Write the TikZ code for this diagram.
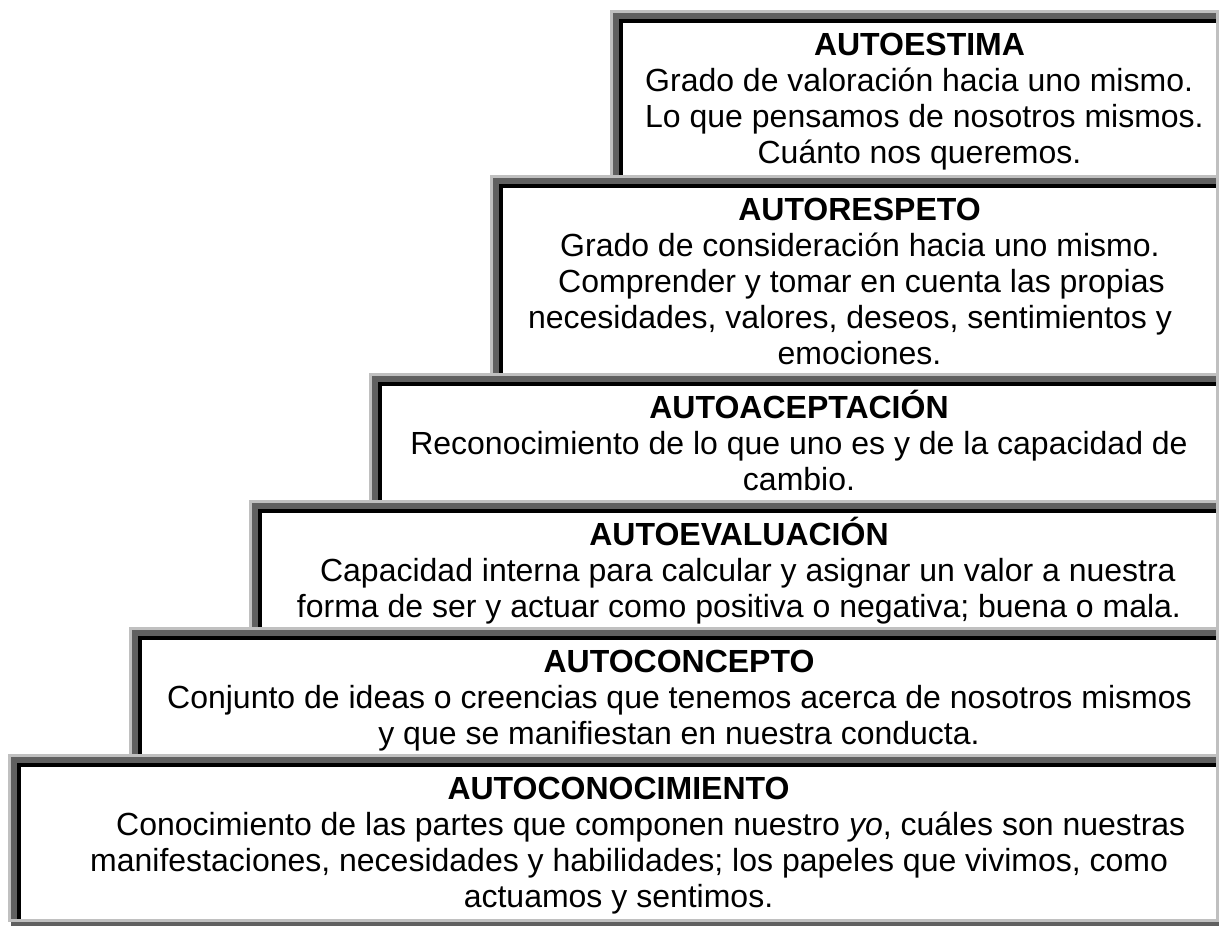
\documentclass[tikz,border=0pt]{standalone}
\usepackage{fontspec}
\setmainfont{Liberation Sans}
\definecolor{lg}{HTML}{C0C0C0}
\definecolor{dg}{HTML}{606060}
\newcommand\sunkbox[3]{%
  \fill[lg] (#1,#2) rectangle (1219,#3);
  \fill[dg] (#1+3,#2+3) rectangle (1216,#3-3);
  \fill[black] (#1+9,#2+9) rectangle (1216,#3-3);
  \fill[white] (#1+13,#2+13) rectangle (1216,#3-3);
}
\tikzset{
  txt/.style={anchor=base, inner sep=0pt, font=\fontsize{32}{36}\selectfont},
  ltxt/.style={txt, anchor=base west},
  ttl/.style={txt, font=\fontsize{32}{36}\selectfont\bfseries}
}
\begin{document}
\begin{tikzpicture}[x=1pt,y=-1pt]
\useasboundingbox (0,0) rectangle (1219,926);
\fill[white] (0,0) rectangle (1219,926);
% boxes
\sunkbox{610}{10}{178}
\sunkbox{490}{175}{376}
\sunkbox{369}{373}{503}
\sunkbox{249}{500}{630}
\sunkbox{129}{627}{757}
\sunkbox{8}{754}{922}
\fill[dg] (11,922) rectangle (1219,926);
% box 1
\node[ttl] (t1) at (919.5,55) {AUTOESTIMA};
\node[ltxt] (t1a) at (645,91) {Grado de valoración hacia uno mismo.};
\node[ltxt] (t1b) at (645,127) {Lo que pensamos de nosotros mismos.};
\node[txt] (t1c) at (919.5,163) {Cuánto nos queremos.};
% box 2
\node[ttl] (t2) at (859.5,220) {AUTORESPETO};
\node[ltxt] (t2a) at (560,256) {Grado de consideración hacia uno mismo.};
\node[ltxt] (t2b) at (558,292) {Comprender y tomar en cuenta las propias};
\node[txt] (t2c) at (850,328) {necesidades, valores, deseos, sentimientos y};
\node[txt] (t2d) at (859.5,364) {emociones.};
% box 3
\node[ttl] (t3) at (799,418) {AUTOACEPTACIÓN};
\node[txt] (t3a) at (799,454) {Reconocimiento de lo que uno es y de la capacidad de};
\node[txt] (t3b) at (799,490) {cambio.};
% box 4
\node[ttl] (t4) at (739,545) {AUTOEVALUACIÓN};
\node[txt] (t4a) at (739,581) {\ \ Capacidad interna para calcular y asignar un valor a nuestra};
\node[txt] (t4b) at (739,617) {forma de ser y actuar como positiva o negativa; buena o mala.};
% box 5
\node[ttl] (t5) at (679,672) {AUTOCONCEPTO};
\node[ltxt] (t5a) at (167,708) {Conjunto de ideas o creencias que tenemos acerca de nosotros mismos};
\node[txt] (t5b) at (679,744) {y que se manifiestan en nuestra conducta.};
% box 6
\node[ttl] (t6) at (618.5,799) {AUTOCONOCIMIENTO};
\node[ltxt] (t6a) at (116,835) {Conocimiento de las partes que componen nuestro \textit{yo}, cuáles son nuestras};
\node[ltxt] (t6b) at (90,871) {manifestaciones, necesidades y habilidades; los papeles que vivimos, como};
\node[txt] (t6c) at (618.5,907) {actuamos y sentimos.};
\end{tikzpicture}
\end{document}
